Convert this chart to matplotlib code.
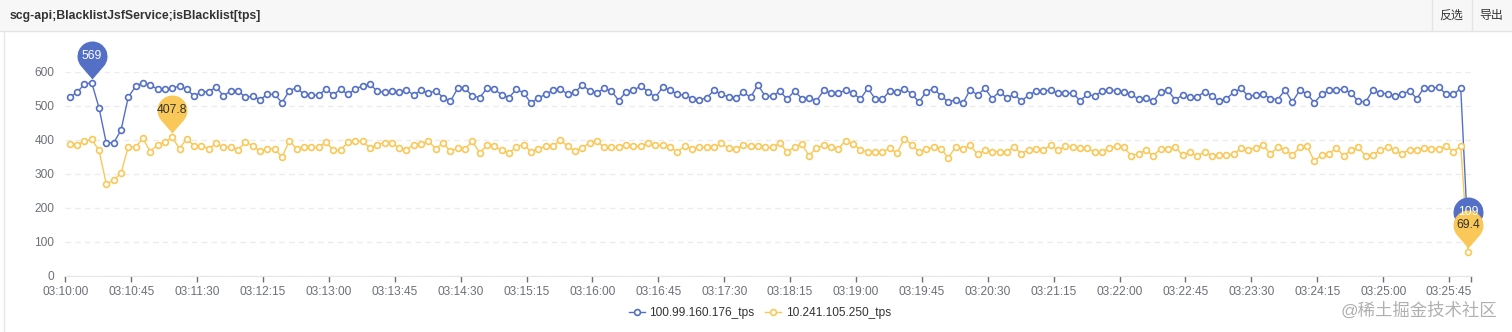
import matplotlib
matplotlib.use("Agg")
import matplotlib.pyplot as plt
import matplotlib.dates as mdates
from matplotlib.path import Path
from matplotlib.lines import Line2D
from matplotlib.patches import Rectangle
import numpy as np
import pandas as pd

plt.rcParams['font.family'] = ['Liberation Sans', 'Noto Sans CJK SC', 'DejaVu Sans']

title = "scg-api;BlacklistJsfService;isBlacklist[tps]"
series_names = ["100.99.160.176_tps", "10.241.105.250_tps"]

# 5 second samples
times = pd.date_range("2023-01-01 03:10:03", periods=192, freq="5s")

tps_a = [526, 540, 564, 569, 495, 391, 392, 428, 526, 558,
         568, 562, 549, 549, 552, 559, 549, 529, 542, 542,
         556, 530, 544, 544, 526, 528, 519, 534, 534, 510,
         545, 554, 534, 532, 532, 550, 532, 550, 534, 550,
         559, 564, 544, 540, 544, 542, 546, 533, 546, 538,
         545, 525, 514, 552, 552, 529, 525, 552, 549, 533,
         525, 549, 539, 508, 524, 534, 546, 549, 536, 540,
         562, 545, 538, 552, 544, 516, 542, 546, 559, 542,
         526, 555, 547, 534, 532, 522, 518, 524, 546, 534,
         527, 524, 540, 526, 562, 529, 529, 544, 520, 544,
         522, 525, 515, 546, 539, 539, 546, 538, 520, 552,
         522, 520, 544, 540, 551, 536, 512, 542, 551, 530,
         512, 518, 508, 548, 532, 552, 522, 542, 524, 534,
         515, 532, 544, 545, 546, 537, 537, 538, 516, 534,
         529, 544, 547, 545, 542, 534, 520, 524, 514, 542,
         546, 518, 532, 526, 526, 542, 530, 514, 522, 540,
         552, 528, 532, 534, 522, 519, 547, 512, 546, 536,
         510, 534, 546, 546, 550, 538, 514, 512, 546, 538,
         536, 530, 536, 544, 522, 554, 552, 556, 534, 534,
         552, 109]

tps_b = [388, 386, 396, 402, 370, 270, 282, 302, 380, 379,
         405, 366, 386, 394, 407.8, 375, 404, 383, 383, 375,
         390, 379, 379, 370, 395, 383, 367, 374, 374, 349,
         398, 374, 378, 378, 378, 394, 370, 370, 394, 396,
         396, 377, 386, 392, 392, 376, 372, 386, 388, 397,
         374, 392, 367, 376, 374, 396, 362, 385, 381, 370,
         362, 380, 386, 366, 374, 381, 381, 400, 382, 368,
         376, 392, 396, 379, 379, 379, 386, 381, 381, 392,
         384, 384, 378, 365, 382, 374, 378, 379, 378, 390,
         376, 374, 385, 381, 381, 378, 378, 392, 364, 380,
         387, 354, 377, 384, 380, 375, 398, 387, 372, 365,
         365, 364, 376, 361, 404, 386, 366, 373, 378, 375,
         347, 380, 374, 384, 358, 370, 365, 366, 365, 380,
         360, 372, 375, 372, 384, 370, 382, 380, 376, 376,
         364, 366, 376, 383, 378, 354, 360, 370, 354, 374,
         374, 378, 356, 364, 352, 366, 354, 356, 356, 358,
         376, 372, 377, 384, 360, 378, 370, 356, 378, 382,
         338, 356, 360, 376, 354, 370, 378, 354, 356, 370,
         378, 370, 360, 372, 372, 376, 374, 374, 382, 366,
         382, 69.4]

colors = ["#5470c6", "#fac858"]
label_colors = ["white", "#333333"]
y_ticks = [0, 100, 200, 300, 400, 500, 600]

W, H = 1512, 332


def fx(x):
    return x / W


def fy(y):
    return 1 - y / H


fig = plt.figure(figsize=(W / 100, H / 100), dpi=100)

# header bar
fig.patches.append(Rectangle((0, fy(31)), 1, 31 / H, transform=fig.transFigure,
                             facecolor="#f7f7f7", edgecolor="none", zorder=0))
fig.add_artist(Line2D([0, 1], [fy(31), fy(31)], color="#e4e4e4", lw=1))
fig.add_artist(Line2D([fx(4), fx(4)], [fy(31), 0], color="#e8e8e8", lw=1))
for sx in (1432, 1472):
    fig.add_artist(Line2D([fx(sx), fx(sx)], [fy(0), fy(31)], color="#e4e4e4", lw=1))
fig.text(fx(10), fy(16), title, fontsize=8.8, weight="bold", color="#333333", va="center")
fig.text(fx(1451), fy(16), "反选", fontsize=8.6, color="#333333", ha="center", va="center")
fig.text(fx(1491), fy(16), "导出", fontsize=8.6, color="#333333", ha="center", va="center")

ax = fig.add_axes([fx(65.3), fy(276), (1471 - 65.3) / W, (276 - 72) / H])

for vals, name, c in zip([tps_a, tps_b], series_names, colors):
    ax.plot(times, vals, color=c, lw=1.0, marker="o", markersize=4.2,
            markerfacecolor="white", markeredgecolor=c, markeredgewidth=1.2,
            label=name, zorder=3, clip_on=False)

# pin shaped marker, origin at the data point (pixel units)
R, cy, tip = 15.0, 27.0, 4.0
phi = np.degrees(np.arccos(R / (cy - tip)))
arc = Path.arc(-90 + phi, 270 - phi)
verts = arc.vertices * R + [0, cy]
codes = list(arc.codes)
verts = np.vstack([verts, [[0, tip]], [[0, tip]]])
codes += [Path.LINETO, Path.CLOSEPOLY]
pin = Path(verts, codes)
pin_ms = 2 * np.max(np.abs(pin.vertices)) * 72 / fig.dpi

for k, (vals, c, lc) in enumerate(zip([tps_a, tps_b], colors, label_colors)):
    arr = np.array(vals, dtype=float)
    for i in (int(arr.argmax()), int(arr.argmin())):
        ax.plot(times[i], arr[i], marker=pin, markersize=pin_ms, color=c,
                markeredgewidth=0, zorder=5 + k * 0.1, linestyle="none", clip_on=False)
        ax.annotate(f"{arr[i]:g}", xy=(times[i], arr[i]), xytext=(0, cy),
                    textcoords="offset pixels", ha="center", va="center",
                    fontsize=8.8, color=lc, zorder=7 + k * 0.1, annotation_clip=False)

ax.set_ylim(0, 600)
ax.set_yticks(y_ticks)
ax.set_xlim(pd.Timestamp("2023-01-01 03:10:00"), pd.Timestamp("2023-01-01 03:26:00"))
ax.set_xticks(pd.date_range("2023-01-01 03:10:00", "2023-01-01 03:26:00", freq="45s").append(
    pd.DatetimeIndex([pd.Timestamp("2023-01-01 03:26:00")])))
ax.xaxis.set_major_formatter(mdates.DateFormatter("%H:%M:%S"))
labels = [t.get_text() for t in ax.get_xticklabels()]
ax.set_xticklabels([lab if lab != "03:26:00" else "" for lab in labels])

ax.grid(axis="y", color="#ececec", lw=1, linestyle=(0, (4, 3)))
ax.set_axisbelow(True)
for s in ("top", "right", "left"):
    ax.spines[s].set_visible(False)
ax.spines["bottom"].set_color("#e6e6e6")
ax.tick_params(axis="y", length=0, pad=8, labelsize=8.6, labelcolor="#6e7079")
ax.tick_params(axis="x", length=4, width=1, color="#6e7079", pad=3,
               labelsize=8.6, labelcolor="#6e7079")

leg = fig.legend(loc="center", bbox_to_anchor=(fx(760), fy(313)), ncol=2, frameon=False,
                 fontsize=8.6, handlelength=1.3, handletextpad=0.4, columnspacing=0.9)
for t in leg.get_texts():
    t.set_color("#333333")

fig.text(fx(1497), fy(310), "@稀土掘金技术社区", fontsize=12.5, color="#b0b0b0",
         ha="right", va="center")

fig.savefig("out.png", dpi=100)
